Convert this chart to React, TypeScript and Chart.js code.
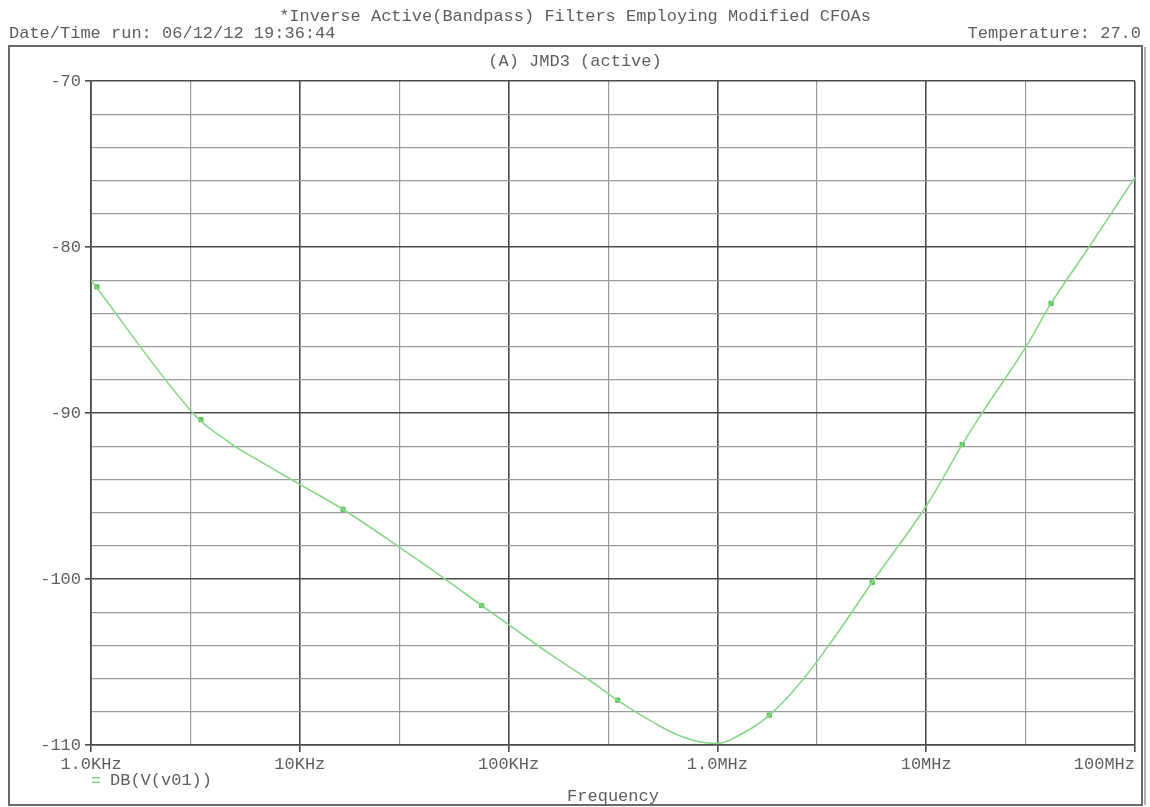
import React, { useEffect, useRef } from "react";
import { Chart, registerables } from "chart.js";

Chart.register(...registerables);

// Header / footer text of the probe window
const plotTitle = "*Inverse Active(Bandpass) Filters Employing Modified CFOAs";
const runStamp = "Date/Time run: 06/12/12 19:36:44";
const temperatureText = "Temperature: 27.0";
const sectionLabel = "(A) JMD3 (active)";
const seriesName = "DB(V(v01))";
const xAxisTitle = "Frequency";

// Trace: DB(V(v01)) versus frequency
const freqHz = [
  1000, 2977, 4624, 6437, 10000, 16060, 30100, 52200, 74300, 98900,
  157100, 244100, 332200, 472600, 680100, 989000, 1233000, 1774000, 2551000,
  3549000, 5514000, 10000000, 14870000, 18530000, 30100000, 39630000,
  60260000, 100000000,
];
const gainDb = [
  -82.0, -89.8, -91.8, -92.9, -94.3, -95.8, -98.1, -100.2, -101.6,
  -102.7, -104.5, -106.1, -107.3, -108.5, -109.5, -109.9, -109.5, -108.2,
  -106.1, -103.7, -100.2, -95.6, -91.9, -90.0, -86.0, -83.4, -80.0, -75.8,
];

// Square trace markers
const markerFreqHz = [
  1068, 3360, 16100, 74300, 333000, 1774000, 5514000, 14870000, 39630000,
];
const markerDb = [-82.4, -90.4, -95.8, -101.6, -107.3, -108.2, -100.2, -91.9, -83.4];

// Axes
const xGridHz = [1e3, 3e3, 1e4, 3e4, 1e5, 3e5, 1e6, 3e6, 1e7, 3e7, 1e8];
const xDecadeHz = [1e3, 1e4, 1e5, 1e6, 1e7, 1e8];
const xDecadeLabels = ["1.0KHz", "10KHz", "100KHz", "1.0MHz", "10MHz", "100MHz"];
const yMin = -110;
const yMax = -70;
const yGridStep = 2;
const yLabelStep = 10;

const FONT_FAMILY = "'Liberation Mono', 'DejaVu Sans Mono', monospace";
const FONT_SIZE = 17;
const TEXT_COLOR = "#5e5e5e";
const MAJOR_GRID = "#4a4a4a";
const MINOR_GRID = "#9a9a9a";
const TRACE_COLOR = "rgb(135, 215, 135)";
const MARKER_COLOR = "rgb(95, 195, 95)";

const X_TICK_LEN = 7;
const X_TICK_PAD = 2;

const isDecade = (v: number) => {
  const l = Math.log10(v);
  return Math.abs(l - Math.round(l)) < 1e-9;
};

const decadeLabel = (v: number) => {
  const i = xDecadeHz.findIndex((d) => Math.abs(d - v) / d < 1e-9);
  return i >= 0 ? xDecadeLabels[i] : "";
};

// Draws the window frame, header lines, legend and the right-aligned last x label
const probeFrame = {
  id: "probeFrame",
  afterDraw(chart: any) {
    const { ctx, chartArea } = chart;
    const xs = chart.scales.x;
    const w = chart.width;
    ctx.save();
    ctx.font = `${FONT_SIZE}px ${FONT_FAMILY}`;
    ctx.fillStyle = TEXT_COLOR;
    ctx.textBaseline = "middle";

    ctx.textAlign = "center";
    ctx.fillText(plotTitle, w / 2, 16);
    ctx.textAlign = "left";
    ctx.fillText(runStamp, 9, 33);
    ctx.textAlign = "right";
    ctx.fillText(temperatureText, 1141, 33);

    // outer frame
    ctx.strokeStyle = "#6a6a6a";
    ctx.lineWidth = 2;
    ctx.strokeRect(9, 46, 1133, 759);
    ctx.strokeStyle = "#b0b0b0";
    ctx.lineWidth = 2;
    ctx.beginPath();
    ctx.moveTo(1145, 47);
    ctx.lineTo(1145, 805);
    ctx.stroke();

    ctx.textAlign = "center";
    ctx.fillText(sectionLabel, (chartArea.left + chartArea.right) / 2 - 38, 61);

    // last decade label kept inside the frame
    const lineHeight = FONT_SIZE * 1.2;
    const lastHz = xDecadeHz[xDecadeHz.length - 1];
    ctx.textAlign = "right";
    ctx.fillText(
      decadeLabel(lastHz),
      xs.getPixelForValue(lastHz),
      xs.top + X_TICK_LEN + X_TICK_PAD + lineHeight / 2
    );

    // legend
    ctx.fillStyle = TRACE_COLOR;
    ctx.fillRect(92, 777, 8, 1.6);
    ctx.fillRect(92, 781.5, 8, 1.6);
    ctx.fillStyle = TEXT_COLOR;
    ctx.textAlign = "left";
    ctx.fillText(seriesName, 110, 780);
    ctx.restore();
  },
};

export default function App() {
  const canvasRef = useRef<HTMLCanvasElement | null>(null);

  useEffect(() => {
    if (!canvasRef.current) return;
    const chart = new Chart(canvasRef.current, {
      type: "line",
      data: {
        datasets: [
          {
            label: seriesName,
            data: freqHz.map((f, i) => ({ x: f, y: gainDb[i] })),
            borderColor: TRACE_COLOR,
            borderWidth: 1.6,
            pointRadius: 0,
            tension: 0.4,
            fill: false,
          },
          {
            label: seriesName + " markers",
            data: markerFreqHz.map((f, i) => ({ x: f, y: markerDb[i] })),
            showLine: false,
            pointStyle: "rect",
            pointRadius: 3,
            pointBackgroundColor: MARKER_COLOR,
            pointBorderColor: MARKER_COLOR,
            pointBorderWidth: 1,
          },
        ],
      },
      options: {
        responsive: false,
        animation: false,
        devicePixelRatio: 1,
        layout: { padding: { top: 81, right: 15, left: 0, bottom: 0 } },
        plugins: {
          legend: { display: false },
          tooltip: { enabled: false },
          title: { display: false },
        },
        scales: {
          x: {
            type: "logarithmic",
            min: 1e3,
            max: 1e8,
            afterBuildTicks: (scale: any) => {
              scale.ticks = xGridHz.map((v) => ({ value: v }));
            },
            afterFit: (scale: any) => {
              scale.height = 62;
            },
            ticks: {
              autoSkip: false,
              maxRotation: 0,
              minRotation: 0,
              padding: X_TICK_PAD,
              color: TEXT_COLOR,
              font: { family: FONT_FAMILY, size: FONT_SIZE },
              callback: (v: any) => {
                const n = Number(v);
                if (n === xDecadeHz[xDecadeHz.length - 1]) return "";
                return isDecade(n) ? decadeLabel(n) : "";
              },
            },
            grid: {
              tickLength: X_TICK_LEN,
              color: (c: any) => (isDecade(c.tick.value) ? MAJOR_GRID : MINOR_GRID),
              lineWidth: (c: any) => (isDecade(c.tick.value) ? 1.6 : 1.2),
              tickColor: (c: any) =>
                isDecade(c.tick.value) ? MAJOR_GRID : "rgba(0,0,0,0)",
            },
            border: { color: MAJOR_GRID, width: 1.6 },
            title: {
              display: true,
              text: xAxisTitle,
              color: TEXT_COLOR,
              font: { family: FONT_FAMILY, size: FONT_SIZE },
              padding: { top: 0, bottom: 0 },
            },
          },
          y: {
            type: "linear",
            min: yMin,
            max: yMax,
            afterFit: (scale: any) => {
              scale.width = 91;
            },
            ticks: {
              stepSize: yGridStep,
              padding: 4,
              color: TEXT_COLOR,
              font: { family: FONT_FAMILY, size: FONT_SIZE },
              callback: (v: any) =>
                Number(v) % yLabelStep === 0 ? String(Number(v)) : "",
            },
            grid: {
              tickLength: 6,
              color: (c: any) =>
                c.tick.value % yLabelStep === 0 ? MAJOR_GRID : MINOR_GRID,
              lineWidth: (c: any) => (c.tick.value % yLabelStep === 0 ? 1.6 : 1.2),
              tickColor: (c: any) =>
                c.tick.value % yLabelStep === 0 ? MAJOR_GRID : "rgba(0,0,0,0)",
            },
            border: { color: MAJOR_GRID, width: 1.6 },
          },
        },
      } as any,
      plugins: [probeFrame],
    });
    return () => chart.destroy();
  }, []);

  return (
    <div
      style={{
        position: "absolute",
        left: 0,
        top: 0,
        width: 1150,
        height: 807,
        background: "#ffffff",
      }}
    >
      <canvas ref={canvasRef} width={1150} height={807} />
    </div>
  );
}
